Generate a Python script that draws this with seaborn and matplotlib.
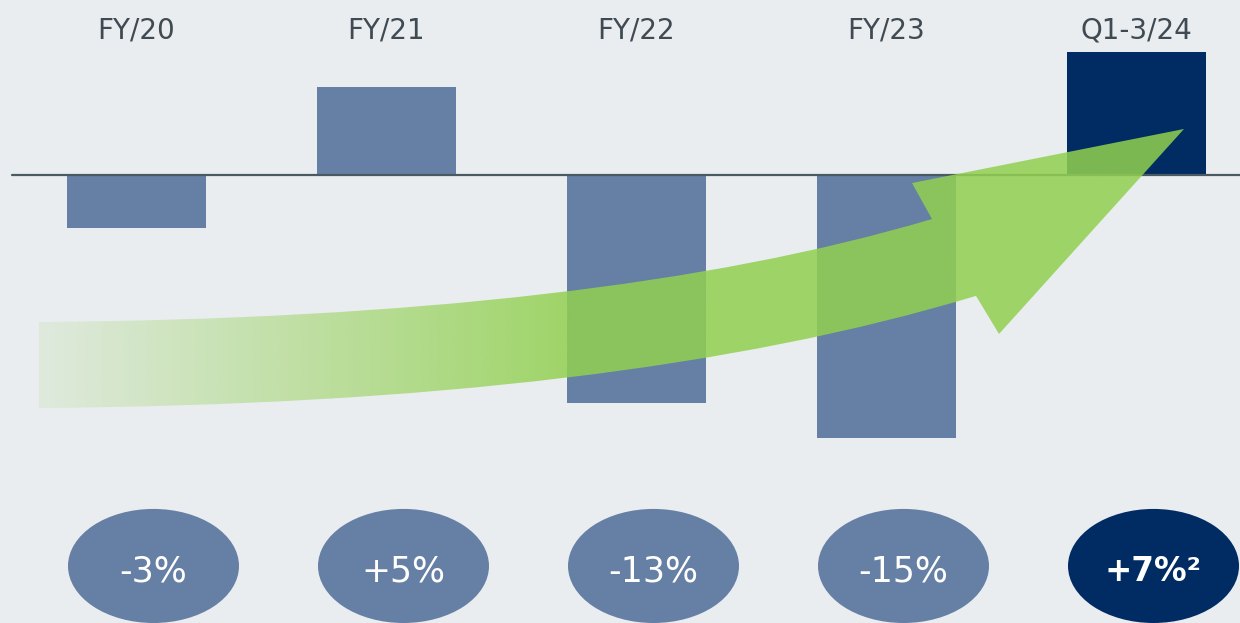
import numpy as np
import pandas as pd
import seaborn as sns
import matplotlib.pyplot as plt
from matplotlib.patches import Ellipse, PathPatch
from matplotlib.path import Path

# chart data
periods = ["FY/20", "FY/21", "FY/22", "FY/23", "Q1-3/24"]
changes = [-3, 5, -13, -15, 7]
footnotes = ["", "", "", "", "²"]

BG = "#E9EDF0"
BAR = "#667FA5"
NAVY = "#002B63"
GREEN = "#92D050"
bar_colors = [BAR, BAR, BAR, BAR, NAVY]

sns.set_theme(style="white")
plt.rcParams["font.family"] = ["DejaVu Sans"]

df = pd.DataFrame({"period": periods, "change": changes})

fig = plt.figure(figsize=(12.4, 6.23), dpi=100)
fig.patch.set_facecolor(BG)
ax = fig.add_axes([0, 0, 1, 1])

sns.barplot(data=df, x="period", y="change", hue="period", palette=bar_colors,
            width=0.556, saturation=1, legend=False, ax=ax, zorder=2,
            linewidth=0, edgecolor="none")

ax.set_xlim(-0.546, 4.414)
ax.set_ylim(-25.53, 9.97)
ax.axis("off")

# zero line
ax.axhline(0, xmin=12 / 1240, xmax=1, color="#4A5A63", lw=1.6, zorder=3)

# period labels on top
for i, p in enumerate(periods):
    ax.text(i, 8.25, p, ha="center", va="center", fontsize=20, color="#3F4A52")

# value bubbles
for i, (v, fn) in enumerate(zip(changes, footnotes)):
    last = i == len(changes) - 1
    ax.add_patch(Ellipse((i + 0.068, -22.28), 0.684, 6.5,
                         facecolor=NAVY if last else BAR, edgecolor="none", zorder=2))
    ax.text(i + 0.068, -22.6, f"{v:+d}%{fn}", ha="center", va="center",
            fontsize=23.5 if last else 25, color="white",
            fontweight="bold" if last else "normal", zorder=3)

# green trend arrow with left-to-right fade
verts = [(-0.39, -8.38), (1.854, -8.15), (3.182, -2.51),
         (3.102, -0.46), (4.19, 2.62), (3.45, -9.06), (3.358, -6.89),
         (1.934, -13.05), (-0.39, -13.28), (-0.39, -8.38)]
codes = [Path.MOVETO, Path.CURVE3, Path.CURVE3,
         Path.LINETO, Path.LINETO, Path.LINETO, Path.LINETO,
         Path.CURVE3, Path.CURVE3, Path.CLOSEPOLY]
arrow = PathPatch(Path(verts, codes), facecolor="none", edgecolor="none")
ax.add_patch(arrow)

xs = np.linspace(-0.39, 4.2, 600)
alpha = np.clip(0.12 + (xs + 0.39) / (1.754 + 0.39) * (0.86 - 0.12), 0, 0.86)
rgb = np.array(plt.matplotlib.colors.to_rgb(GREEN))
grad = np.zeros((2, len(xs), 4))
grad[..., :3] = rgb
grad[..., 3] = alpha
img = ax.imshow(grad, extent=(-0.39, 4.2, -13.3, 2.7), origin="lower",
                aspect="auto", interpolation="bilinear", zorder=4)
img.set_clip_path(arrow)

fig.savefig("out.png", dpi=100, facecolor=BG)
